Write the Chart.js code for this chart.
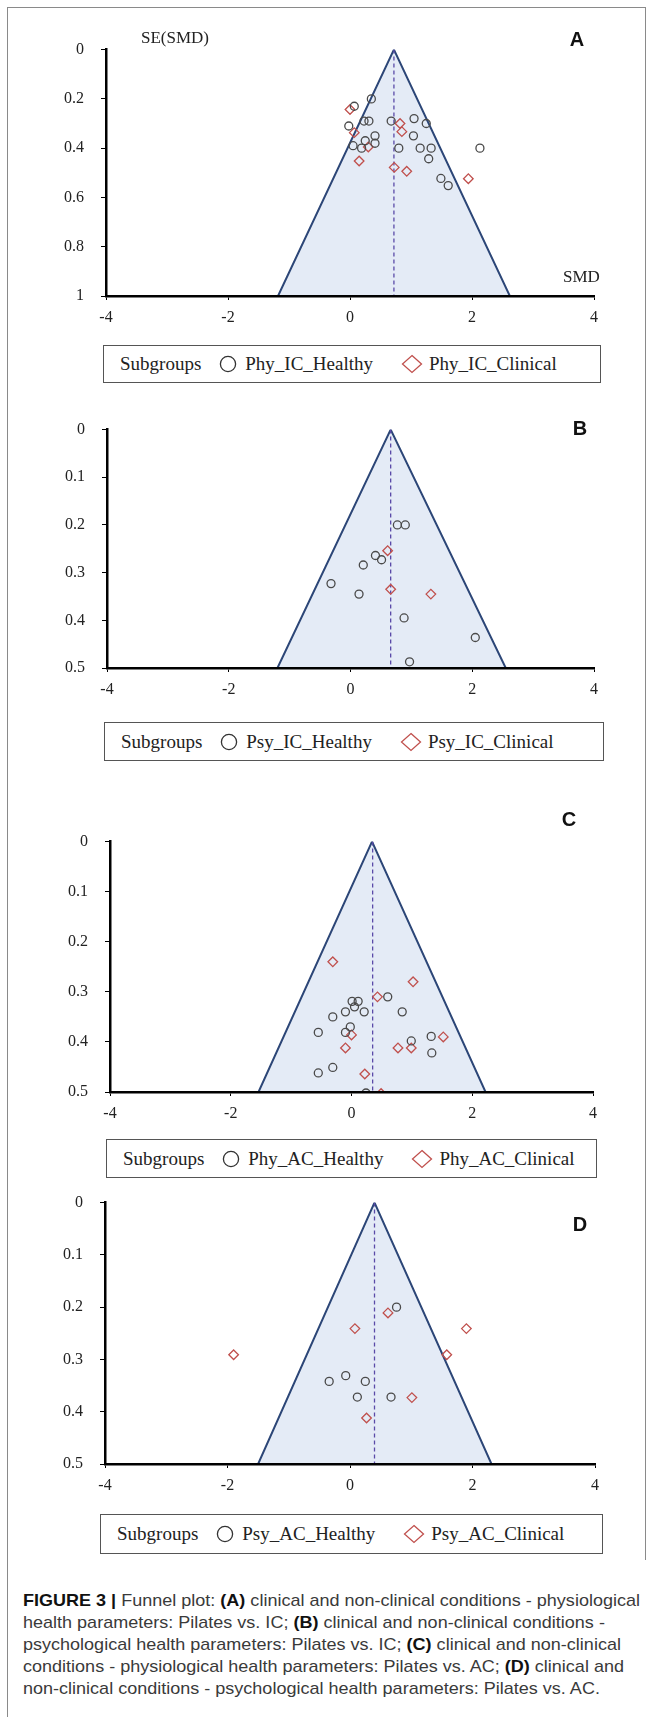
<!DOCTYPE html>
<html>
<head>
<meta charset="utf-8">
<title>Funnel plots</title>
<script src="https://cdn.jsdelivr.net/npm/chart.js@4.4.0/dist/chart.umd.min.js"></script>
<style>
  body { margin: 0; background: #fff; }
  #page { position: relative; width: 652px; height: 1717px; overflow: hidden; background: #fff; }
  #frame { position: absolute; left: 7px; top: 7px; width: 638px; height: 1730px; border-left: 1.5px solid #8a8a8a; border-top: 1.5px solid #8a8a8a; }
  #frameRight { position: absolute; left: 645px; top: 7px; width: 0; height: 1553px; border-left: 1.5px solid #8a8a8a; }
  canvas { position: absolute; left: 0; }
  .txt { position: absolute; font-family: "Liberation Serif", "Times New Roman", serif; color: #222; white-space: nowrap; line-height: 1; }
  .letter { position: absolute; font-family: "Liberation Sans", Arial, sans-serif; font-weight: bold; font-size: 20px; color: #111; transform: translate(-50%, -50%); line-height: 1; }
  .legend { position: absolute; box-sizing: border-box; border: 1.5px solid #555; display: flex; align-items: center;
            font-family: "Liberation Serif", "Times New Roman", serif; font-size: 19px; color: #222; white-space: nowrap; }
  .legend svg { display: block; }
  #caption { position: absolute; left: 23px; top: 1590px; font-family: "Liberation Sans", Arial, sans-serif; font-size: 17px; line-height: 22px; color: #3a3a3a; }
  #caption div { white-space: nowrap; transform-origin: 0 50%; }
  #caption b { color: #111; }
</style>
</head>
<body>
<div id="page">
  <div id="frame"></div>
  <div id="frameRight"></div>
  <div id="caption">
    <div><b>FIGURE 3 |</b> Funnel plot: <b>(A)</b> clinical and non-clinical conditions - physiological</div>
    <div>health parameters: Pilates vs. IC; <b>(B)</b> clinical and non-clinical conditions -</div>
    <div>psychological health parameters: Pilates vs. IC; <b>(C)</b> clinical and non-clinical</div>
    <div>conditions - physiological health parameters: Pilates vs. AC; <b>(D)</b> clinical and</div>
    <div>non-clinical conditions - psychological health parameters: Pilates vs. AC.</div>
  </div>
</div>
<script>
// ---- data ----
const xTicks = [-4, -2, 0, 2, 4];
const seTicksA = [0, 0.2, 0.4, 0.6, 0.8, 1];
const seTicksBCD = [0, 0.1, 0.2, 0.3, 0.4, 0.5];

// A: physiological, Pilates vs IC
const aNames = ['Phy_IC_Healthy', 'Phy_IC_Clinical'];
const aHealthySmd = [0.35, 0.07, 0.23, 0.31, 0.675, 1.05, 1.25, -0.02, 0.41, 1.04, 0.25, 0.41, 0.05, 0.19, 0.80, 1.15, 1.33, 2.13, 1.29, 1.49, 1.61];
const aHealthySe  = [0.20, 0.23, 0.29, 0.29, 0.29, 0.28, 0.30, 0.31, 0.35, 0.35, 0.37, 0.38, 0.39, 0.40, 0.40, 0.40, 0.40, 0.40, 0.443, 0.523, 0.552];
const aClinicalSmd = [0.00, 0.82, 0.85, 0.07, 0.30, 0.15, 0.725, 0.93, 1.94];
const aClinicalSe  = [0.243, 0.30, 0.333, 0.337, 0.395, 0.452, 0.478, 0.494, 0.524];
const aFunnelSmd = [-1.18, 0.72, 2.62];
const aFunnelSe  = [1, 0, 1];
const aMean = 0.72;

// B: psychological, Pilates vs IC
const bNames = ['Psy_IC_Healthy', 'Psy_IC_Clinical'];
const bHealthySmd = [0.77, 0.90, 0.41, 0.51, 0.21, -0.32, 0.14, 0.88, 2.05, 0.97];
const bHealthySe  = [0.20, 0.20, 0.264, 0.273, 0.284, 0.323, 0.345, 0.395, 0.436, 0.487];
const bClinicalSmd = [0.61, 0.66, 1.32];
const bClinicalSe  = [0.254, 0.335, 0.345];
const bFunnelSmd = [-1.20, 0.66, 2.55];
const bFunnelSe  = [0.5, 0, 0.5];
const bMean = 0.66;

// C: physiological, Pilates vs AC
const cNames = ['Phy_AC_Healthy', 'Phy_AC_Clinical'];
const cHealthySmd = [0.60, 0.01, 0.11, 0.05, -0.10, 0.21, 0.84, -0.31, -0.02, -0.55, -0.10, 1.32, 0.99, 1.33, -0.31, -0.55, 0.24];
const cHealthySe  = [0.310, 0.319, 0.319, 0.330, 0.340, 0.340, 0.340, 0.350, 0.370, 0.381, 0.381, 0.389, 0.398, 0.422, 0.451, 0.462, 0.502];
const cClinicalSmd = [-0.31, 1.02, 0.43, 0.00, 1.52, -0.10, 0.77, 0.99, 0.22, 0.49];
const cClinicalSe  = [0.240, 0.280, 0.310, 0.386, 0.390, 0.412, 0.412, 0.412, 0.464, 0.503];
const cFunnelSmd = [-1.54, 0.34, 2.22];
const cFunnelSe  = [0.5, 0, 0.5];
const cMean = 0.35;

// D: psychological, Pilates vs AC
const dNames = ['Psy_AC_Healthy', 'Psy_AC_Clinical'];
const dHealthySmd = [0.76, -0.07, -0.34, 0.25, 0.12, 0.67];
const dHealthySe  = [0.20, 0.331, 0.342, 0.342, 0.372, 0.372];
const dClinicalSmd = [0.62, 0.08, 1.90, -1.90, 1.58, 1.01, 0.27];
const dClinicalSe  = [0.211, 0.241, 0.241, 0.291, 0.291, 0.373, 0.412];
const dFunnelSmd = [-1.50, 0.40, 2.31];
const dFunnelSe  = [0.5, 0, 0.5];
const dMean = 0.40;

// ---- page geometry (pixels) ----
const panels = [
  { letter: 'A', names: aNames, hx: aHealthySmd, hy: aHealthySe, cx: aClinicalSmd, cy: aClinicalSe,
    fx: aFunnelSmd, fy: aFunnelSe, mean: aMean, seTicks: seTicksA,
    left: 106, right: 594, top: 37, bottom: 296, legend: [103, 345, 498, 38], tag: [577, 39], axisTitles: true },
  { letter: 'B', names: bNames, hx: bHealthySmd, hy: bHealthySe, cx: bClinicalSmd, cy: bClinicalSe,
    fx: bFunnelSmd, fy: bFunnelSe, mean: bMean, seTicks: seTicksBCD,
    left: 107, right: 594, top: 417, bottom: 668, legend: [104, 722, 500, 39], tag: [580, 428] },
  { letter: 'C', names: cNames, hx: cHealthySmd, hy: cHealthySe, cx: cClinicalSmd, cy: cClinicalSe,
    fx: cFunnelSmd, fy: cFunnelSe, mean: cMean, seTicks: seTicksBCD,
    left: 110, right: 593, top: 829, bottom: 1092, legend: [106, 1139, 491, 39], tag: [569, 819] },
  { letter: 'D', names: dNames, hx: dHealthySmd, hy: dHealthySe, cx: dClinicalSmd, cy: dClinicalSe,
    fx: dFunnelSmd, fy: dFunnelSe, mean: dMean, seTicks: seTicksBCD,
    left: 105, right: 595, top: 1190, bottom: 1464, legend: [100, 1514, 503, 40], tag: [580, 1224] },
];

const page = document.getElementById('page');
const zip = (xs, ys) => xs.map((x, i) => ({ x: x, y: ys[i] }));
const tickFont = { family: 'Liberation Serif', size: 16 };

function addText(cls, html, x, y, size) {
  const el = document.createElement('div');
  el.className = cls;
  el.innerHTML = html;
  el.style.left = x + 'px';
  el.style.top = y + 'px';
  if (size) el.style.fontSize = size + 'px';
  page.appendChild(el);
  return el;
}

function addLegend(p) {
  const [lx, ly, lw, lh] = p.legend;
  const box = document.createElement('div');
  box.className = 'legend';
  box.style.left = lx + 'px';
  box.style.top = ly + 'px';
  box.style.width = lw + 'px';
  box.style.height = lh + 'px';
  box.style.paddingLeft = '16px';
  box.innerHTML =
    '<span style="margin-right:18px">Subgroups</span>' +
    '<svg width="18" height="18"><circle cx="9" cy="9" r="7.6" fill="none" stroke="#333" stroke-width="1.3"/></svg>' +
    '<span style="margin-left:8px;margin-right:28px">' + p.names[0] + '</span>' +
    '<svg width="22" height="20"><path d="M11 1.5 L20.5 10 L11 18.5 L1.5 10 Z" fill="none" stroke="#c0504d" stroke-width="1.3"/></svg>' +
    '<span style="margin-left:6px">' + p.names[1] + '</span>';
  page.appendChild(box);
}

function addPanel(p) {
  const padTop = 14, axisH = 36;
  const yMax = p.seTicks[p.seTicks.length - 1];
  const h = padTop + (p.bottom - p.top) + axisH;
  const canvas = document.createElement('canvas');
  canvas.width = 652;
  canvas.height = h;
  canvas.style.width = '652px';
  canvas.style.height = h + 'px';
  canvas.style.top = (p.top - padTop) + 'px';
  page.appendChild(canvas);

  new Chart(canvas, {
    type: 'scatter',
    data: {
      datasets: [
        { label: p.names[0], data: zip(p.hx, p.hy), order: 0,
          pointStyle: 'circle', pointRadius: 4, pointBorderWidth: 1.3,
          pointBorderColor: '#4a4a4a', pointBackgroundColor: 'rgba(0,0,0,0)' },
        { label: p.names[1], data: zip(p.cx, p.cy), order: 0,
          pointStyle: 'rectRot', pointRadius: 4.8, pointBorderWidth: 1.3,
          pointBorderColor: '#c0504d', pointBackgroundColor: 'rgba(0,0,0,0)' },
        { type: 'line', label: 'mean', data: [{ x: p.mean, y: 0 }, { x: p.mean, y: yMax }], order: 1,
          borderColor: '#5a4aa8', borderWidth: 1.3, borderDash: [4, 3], pointRadius: 0, fill: false },
        { type: 'line', label: 'funnel', data: zip(p.fx, p.fy), order: 2,
          borderColor: '#2c4677', borderWidth: 2, backgroundColor: '#e4ebf6',
          fill: { value: yMax }, pointRadius: 0, tension: 0 },
      ]
    },
    options: {
      responsive: false,
      animation: false,
      devicePixelRatio: 1,
      layout: { padding: { left: 0, right: 652 - p.right, top: padTop, bottom: 0 } },
      plugins: { legend: { display: false }, tooltip: { enabled: false } },
      scales: {
        x: {
          type: 'linear', min: -4, max: 4,
          afterBuildTicks: s => { s.ticks = xTicks.map(v => ({ value: v })); },
          afterFit: s => { s.height = axisH; },
          grid: { drawOnChartArea: false, drawTicks: true, tickLength: 4, color: '#000', lineWidth: 1 },
          border: { display: true, color: '#000', width: 2.5, z: 1 },
          ticks: { font: tickFont, color: '#222', padding: 8, maxRotation: 0, callback: v => String(v) }
        },
        y: {
          type: 'linear', reverse: true, min: 0, max: yMax,
          afterBuildTicks: s => { s.ticks = p.seTicks.map(v => ({ value: v })); },
          afterFit: s => { s.width = p.left; },
          grid: { drawOnChartArea: false, drawTicks: true, tickLength: 5, color: '#000', lineWidth: 1 },
          border: { display: true, color: '#000', width: 2.5, z: 1 },
          ticks: { font: tickFont, color: '#222', padding: 17, callback: v => String(v) }
        }
      }
    }
  });

  addLegend(p);
  addText('letter', p.letter, p.tag[0], p.tag[1]);
  if (p.axisTitles) {
    addText('txt', 'SE(SMD)', 141, p.top - 8, 17);
    addText('txt', 'SMD', 563, p.bottom - 28, 17);
  }
}

panels.forEach(addPanel);

// squeeze the caption lines to the printed width
function fitCaption() {
  const lines = document.querySelectorAll('#caption div');
  const first = lines[0].getBoundingClientRect().width;
  const k = 617 / first;
  lines.forEach(l => { l.style.transform = 'scaleX(' + k + ')'; });
}
if (document.fonts && document.fonts.ready) {
  document.fonts.ready.then(fitCaption);
} else {
  fitCaption();
}
</script>
</body>
</html>
